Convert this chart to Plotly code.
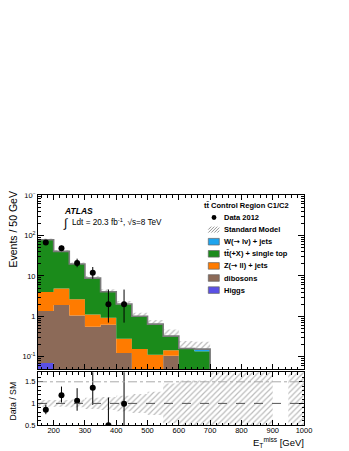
import numpy as np
import plotly.graph_objects as go

# ---------------- data ----------------
edges = [150, 200, 250, 300, 350, 400, 450, 500, 550, 600, 650, 700]
higgs    = [0.07, 0.04, 0.02, 0.01, 0, 0, 0, 0, 0, 0, 0]
dibosons = [1.28, 1.86, 1.03, 0.54, 0.62, 0.125, 0, 0, 0.107, 0, 0]
zjets    = [2.65, 3.0, 1.6, 0.57, 0.30, 0.155, 0.157, 0.113, 0.038, 0, 0]
ttbar    = [74.0, 35.1, 16.95, 7.58, 3.08, 1.72, 0.84, 0.52, 0.175, 0.16, 0.137]
wjets    = [0.4, 0.3, 0.15, 0.1, 0.05, 0.02, 0.01, 0.01, 0.005, 0.0, 0.018]
sm_rel_unc = [0.08, 0.08, 0.09, 0.13, 0.15, 0.18, 0.22, 0.27, 0.46, 0.53, 0.53]

data_x = [175, 225, 275, 325, 375, 425]
data_n = [67, 48, 21, 12, 2, 2]
data_err_up = [9.2, 8.0, 5.7, 4.6, 2.6, 2.6]
data_err_dn = [8.2, 6.9, 4.6, 3.5, 1.3, 1.3]

# ratio band for bins beyond the MC range (700-1000 GeV); None = no band
extra_edges = [700, 750, 800, 850, 900, 950, 1000]
extra_band_lo = [0.0, 0.0, 0.0, 0.0, None, 0.0]
extra_band_hi = [2.0, 2.0, 2.0, 2.0, None, 2.0]

y_tickvals = [0.1, 1, 10, 100, 1000]
y_ticktext = ["10<sup>-1</sup>", "1", "10", "10<sup>2</sup>", "10<sup>3</sup>"]

ARROW = "<span style=\"font-family:DejaVu Sans\">\u2192</span>"
names = ["W(" + ARROW + " l\u03bd) + jets", "tt\u0304(+X) + single top", "Z(" + ARROW + " ll) + jets",
         "dibosons", "Higgs"]
colors = ["#1ea4ee", "#1b8b1b", "#ff7b00", "#8c6a58", "#5a50e6"]

# ---------------- figure geometry ----------------
W, H = 349, 451
OFF = 8                                   # page body margin shifts the figure by this much
ML, MR, MT, MB = 38 - OFF, 45 + OFF, 195 - OFF, 26 + OFF
PW, PH = W - ML - MR, H - MT - MB
FONT = "Liberation Sans, DejaVu Sans"
HATCH = "#7a7a7a"
FLOOR = 1e-3  # below the visible log range


def px(x):
    """screen x (in the 349x451 window) -> paper x"""
    return (x - OFF - ML) / PW


def py(y):
    """screen y -> paper y"""
    return (H - MB - (y - OFF)) / PH


def rects(lefts, rights, lows, highs):
    xs, ys = [], []
    for a, b, lo, hi in zip(lefts, rights, lows, highs):
        if hi <= lo:
            continue
        xs += [a, b, b, a, a, None]
        ys += [lo, lo, hi, hi, lo, None]
    return xs, ys


fig = go.Figure()
lefts, rights = edges[:-1], edges[1:]
centers = [(a + b) / 2 for a, b in zip(lefts, rights)]

stack = [(higgs, colors[4]), (dibosons, colors[3]), (zjets, colors[2]), (ttbar, colors[1]), (wjets, colors[0])]
base = np.zeros(len(centers))
for vals, col in stack:
    v = np.array(vals, float)
    lows = np.where(base > 0, base, FLOOR)
    xs, ys = rects(lefts, rights, lows, base + v)
    fig.add_trace(go.Scatter(x=xs, y=ys, mode="lines", fill="toself", fillcolor=col,
                             line=dict(width=0, color=col), xaxis="x", yaxis="y",
                             showlegend=False, hoverinfo="skip"))
    base = base + v
total = base
unc = np.array(sm_rel_unc)

xs, ys = rects(lefts, rights, total, total * (1 + unc))
fig.add_trace(go.Scatter(x=xs, y=ys, mode="lines", fill="toself", fillcolor="rgba(0,0,0,0)",
                         fillpattern=dict(shape="/", fgcolor=HATCH, size=4, solidity=0.3, fillmode="overlay"),
                         line=dict(width=0), xaxis="x", yaxis="y", showlegend=False, hoverinfo="skip"))

lx = list(edges) + [edges[-1]]
ly = list(total) + [total[-1], FLOOR]
fig.add_trace(go.Scatter(x=lx, y=ly, mode="lines", line=dict(color="#7a7a7a", width=1.6, shape="hv"),
                         xaxis="x", yaxis="y", showlegend=False, hoverinfo="skip"))

fig.add_trace(go.Scatter(x=data_x, y=data_n, mode="markers",
                         marker=dict(color="black", size=6),
                         error_y=dict(type="data", array=data_err_up, arrayminus=data_err_dn,
                                      color="black", thickness=1, width=0),
                         xaxis="x", yaxis="y", showlegend=False))

# ---------------- ratio ----------------
bl, br, blo, bhi = [], [], [], []
for a, b, u in zip(lefts, rights, unc):
    bl.append(a); br.append(b); blo.append(1 - u); bhi.append(1 + u)
for a, b, lo, hi in zip(extra_edges[:-1], extra_edges[1:], extra_band_lo, extra_band_hi):
    if lo is None:
        continue
    bl.append(a); br.append(b); blo.append(lo); bhi.append(hi)
xs, ys = rects(bl, br, blo, bhi)
fig.add_trace(go.Scatter(x=xs, y=ys, mode="lines", fill="toself", fillcolor="rgba(0,0,0,0)",
                         fillpattern=dict(shape="/", fgcolor=HATCH, size=4, solidity=0.3, fillmode="overlay"),
                         line=dict(width=0), xaxis="x2", yaxis="y2", showlegend=False, hoverinfo="skip"))

sm_at_data = np.array([total[centers.index(x)] for x in data_x])
ratio = np.array(data_n) / sm_at_data
r_up = np.array(data_err_up) / sm_at_data
r_dn = np.array(data_err_dn) / sm_at_data
fig.add_trace(go.Scatter(x=data_x, y=ratio, mode="markers",
                         marker=dict(color="black", size=6),
                         error_y=dict(type="data", array=r_up, arrayminus=r_dn,
                                      color="black", thickness=1, width=0),
                         xaxis="x2", yaxis="y2", showlegend=False))

# blank area above the main frame (kept empty, as in the reference)
fig.add_shape(type="rect", xref="paper", yref="paper", layer="above",
              x0=-ML / PW, x1=1 + MR / PW, y0=1 + 1.5 / PH, y1=1 + (MT + 2) / PH,
              fillcolor="white", line=dict(width=0))

fig.add_shape(type="line", xref="x2", yref="y2", x0=150, x1=1000, y0=1, y1=1,
              line=dict(color="#555", width=1, dash="dash"))
fig.add_shape(type="line", xref="x2", yref="y2", x0=150, x1=1000, y0=1.5, y1=1.5,
              line=dict(color="#aaa", width=1, dash="dashdot"))

# ---------------- legend (custom) ----------------
leg_y0, leg_dy = 217.5, 12.1
fig.add_annotation(x=px(291), y=py(205.5), xref="paper", yref="paper", xanchor="right", yanchor="middle",
                   text="<b>tt\u0304 Control Region C1/C2</b>", showarrow=False,
                   font=dict(family=FONT, size=7.5, color="black"))
labels = ["Data 2012", "Standard Model"] + names
for i, lab in enumerate(labels):
    yy = leg_y0 + i * leg_dy
    fig.add_annotation(x=px(222.3), y=py(yy), xref="paper", yref="paper", xanchor="left", yanchor="middle",
                       text="<b>" + lab + "</b>", showarrow=False,
                       font=dict(family=FONT, size=7.5, color="black"))
    if i == 0:
        fig.add_shape(type="circle", xref="paper", yref="paper",
                      x0=px(211.6), x1=px(216.4), y0=py(yy - 2.4), y1=py(yy + 2.4),
                      fillcolor="black", line=dict(width=0))
    elif i == 1:
        bx0, bx1, by0, by1 = 208.3, 219.3, yy + 3.0, yy - 3.0
        step = 3.0
        s = bx0 - (by0 - by1)
        while s < bx1:
            xa, ya, xb, yb = s, by0, s + (by0 - by1), by1
            if xa < bx0:
                ya -= (bx0 - xa); xa = bx0
            if xb > bx1:
                yb += (xb - bx1); xb = bx1
            fig.add_shape(type="line", xref="paper", yref="paper",
                          x0=px(xa), y0=py(ya), x1=px(xb), y1=py(yb),
                          line=dict(color=HATCH, width=0.8))
            s += step
    else:
        fig.add_shape(type="rect", xref="paper", yref="paper",
                      x0=px(208.3), x1=px(219.3), y0=py(yy - 3.3), y1=py(yy + 3.3),
                      fillcolor=colors[i - 2], line=dict(color="#666", width=0.7))

# ---------------- texts ----------------
fig.add_annotation(x=px(62), y=py(210.7), xref="paper", yref="paper", xanchor="left", yanchor="middle",
                   text="<b><i>ATLAS</i></b>", showarrow=False, font=dict(family=FONT, size=8.5, color="black"))
fig.add_annotation(x=px(61), y=py(222.5), xref="paper", yref="paper", xanchor="left", yanchor="middle",
                   text="\u222b", showarrow=False, font=dict(family=FONT, size=12, color="black"))
fig.add_annotation(x=px(70), y=py(221.7), xref="paper", yref="paper", xanchor="left", yanchor="middle",
                   text="Ldt = 20.3 fb<sup>-1</sup>, \u221as=8 TeV", showarrow=False,
                   font=dict(family=FONT, size=8.2, color="black"))
fig.add_annotation(x=px(12.5), y=py(230), xref="paper", yref="paper", xanchor="center", yanchor="middle",
                   text="Events / 50 GeV", textangle=-90, showarrow=False,
                   font=dict(family=FONT, size=10.5, color="black"))
fig.add_annotation(x=px(12.5), y=py(401), xref="paper", yref="paper", xanchor="center", yanchor="middle",
                   text="Data / SM", textangle=-90, showarrow=False,
                   font=dict(family=FONT, size=8.7, color="black"))
fig.add_annotation(x=px(306), y=py(442), xref="paper", yref="paper", xanchor="right", yanchor="middle",
                   text="E<sub>T</sub><sup>miss</sup> [GeV]", showarrow=False,
                   font=dict(family=FONT, size=9.5, color="black"))

# ---------------- axes ----------------
axis_common = dict(showline=True, linecolor="black", linewidth=1, mirror="ticks", ticks="inside",
                   tickcolor="black", showgrid=False, zeroline=False, automargin=False,
                   tickfont=dict(family=FONT, size=7.5, color="black"))
minor_log = [k * 10.0 ** e for e in range(-2, 3) for k in range(2, 10)]
minor_log = [m for m in minor_log if 0.05 <= m <= 1000]

fig.update_layout(
    width=W, height=H, margin=dict(l=ML, r=MR, t=MT, b=MB, autoexpand=False),
    paper_bgcolor="white", plot_bgcolor="white",
    xaxis=dict(domain=[0, 1], anchor="y", range=[150, 1000], tick0=0, dtick=100, ticklen=5,
               showticklabels=False,
               minor=dict(dtick=20, ticks="inside", ticklen=2.5, tickcolor="black", showgrid=False),
               **axis_common),
    yaxis=dict(domain=[py(369), 1], anchor="x", type="log", range=[np.log10(0.05), 3],
               tickmode="array", tickvals=y_tickvals, ticktext=y_ticktext, ticklen=6,
               minor=dict(tickmode="array", tickvals=minor_log, ticks="inside", ticklen=3,
                          tickcolor="black", showgrid=False),
               **axis_common),
    xaxis2=dict(domain=[0, 1], anchor="y2", range=[150, 1000], tick0=0, dtick=100, ticklen=5,
                ticklabelstandoff=-2,
                minor=dict(dtick=20, ticks="inside", ticklen=2.5, tickcolor="black", showgrid=False),
                **axis_common),
    yaxis2=dict(domain=[0, py(372.3)], anchor="x2", range=[0.5, 1.72],
                tickmode="array", tickvals=[0.5, 1, 1.5], ticktext=["0.5", "1", "1.5"], ticklen=5,
                minor=dict(dtick=0.1, tick0=0, ticks="inside", ticklen=2.5, tickcolor="black", showgrid=False),
                **axis_common),
)

fig.write_html("out.html")
